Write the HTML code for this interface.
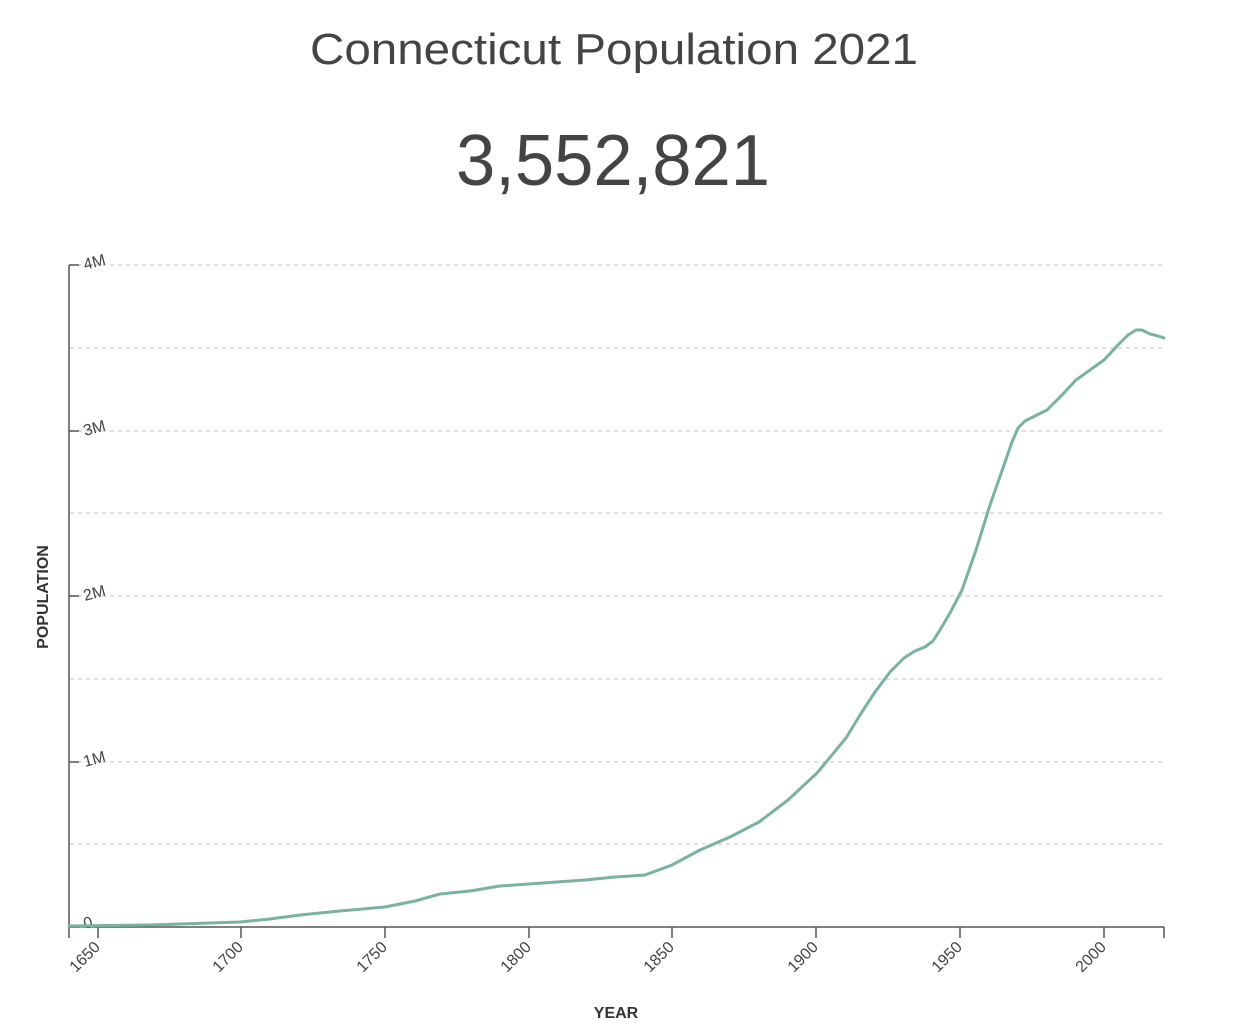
<!DOCTYPE html>
<html><head><meta charset="utf-8"><style>
html,body{margin:0;padding:0;background:#fff;}
svg{display:block;font-family:"Liberation Sans",Arial,sans-serif;}
</style></head><body>
<svg width="1260" height="1030" viewBox="0 0 1260 1030" xmlns="http://www.w3.org/2000/svg">
<text x="614" y="64" text-anchor="middle" font-size="44" fill="#444" textLength="608" lengthAdjust="spacingAndGlyphs">Connecticut Population 2021</text>
<text x="613" y="185" text-anchor="middle" font-size="72" fill="#444" textLength="314" lengthAdjust="spacingAndGlyphs">3,552,821</text>
<g stroke="#d6d6d6" stroke-width="1.5" stroke-dasharray="4,4">
<line x1="70" y1="265" x2="1164" y2="265"/>
<line x1="70" y1="348" x2="1164" y2="348"/>
<line x1="70" y1="431" x2="1164" y2="431"/>
<line x1="70" y1="513" x2="1164" y2="513"/>
<line x1="70" y1="596" x2="1164" y2="596"/>
<line x1="70" y1="679" x2="1164" y2="679"/>
<line x1="70" y1="762" x2="1164" y2="762"/>
<line x1="70" y1="844" x2="1164" y2="844"/>
</g>
<g stroke="#555" stroke-width="1.5">
<line x1="69" y1="265" x2="69" y2="927"/>
<line x1="69" y1="265" x2="79" y2="265"/>
<line x1="69" y1="431" x2="79" y2="431"/>
<line x1="69" y1="596" x2="79" y2="596"/>
<line x1="69" y1="762" x2="79" y2="762"/>
<line x1="69" y1="927" x2="79" y2="927"/>
<line x1="69" y1="927" x2="1164" y2="927"/>
<line x1="69" y1="927" x2="69" y2="938"/>
<line x1="98" y1="927" x2="98" y2="938"/>
<line x1="241" y1="927" x2="241" y2="938"/>
<line x1="385" y1="927" x2="385" y2="938"/>
<line x1="529" y1="927" x2="529" y2="938"/>
<line x1="672" y1="927" x2="672" y2="938"/>
<line x1="816" y1="927" x2="816" y2="938"/>
<line x1="960" y1="927" x2="960" y2="938"/>
<line x1="1104" y1="927" x2="1104" y2="938"/>
<line x1="1164" y1="927" x2="1164" y2="938"/>
</g>
<g font-size="16" fill="#444">
<text transform="translate(85,270) rotate(-15)">4M</text>
<text transform="translate(85,436) rotate(-15)">3M</text>
<text transform="translate(85,601) rotate(-15)">2M</text>
<text transform="translate(85,767) rotate(-15)">1M</text>
<text transform="translate(85,929) rotate(-15)">0</text>
</g>
<g font-size="16" fill="#444" text-anchor="end">
<text transform="translate(101,948) rotate(-45)">1650</text>
<text transform="translate(244,948) rotate(-45)">1700</text>
<text transform="translate(388,948) rotate(-45)">1750</text>
<text transform="translate(532,948) rotate(-45)">1800</text>
<text transform="translate(675,948) rotate(-45)">1850</text>
<text transform="translate(819,948) rotate(-45)">1900</text>
<text transform="translate(963,948) rotate(-45)">1950</text>
<text transform="translate(1107,948) rotate(-45)">2000</text>
</g>
<text x="616" y="1018" text-anchor="middle" font-size="16" font-weight="bold" fill="#333">YEAR</text>
<text transform="translate(48,597) rotate(-90)" text-anchor="middle" font-size="16" font-weight="bold" fill="#333">POPULATION</text>
<polyline fill="none" stroke="#79b2a1" stroke-width="3" stroke-linejoin="round" stroke-linecap="round"
points="69,926 150,925 240,922 270,919 300,915 340,911 385,907 415,901 440,894 470,891 500,886 529,884 585,880 615,877 645,875 672,865 700,850 730,837 759,822 788,800 817,773 846,738 860,715 875,692 890,672 904,658 915,651 925,647 933,641 940,630 950,613 962,590 976,550 990,505 1004,465 1012,442 1018,428 1025,421 1035,416 1047,410 1062,395 1076,380 1090,370 1104,360 1118,345 1128,335 1136,330 1142,330 1150,334 1158,336 1164,338"/>
</svg>
</body></html>
